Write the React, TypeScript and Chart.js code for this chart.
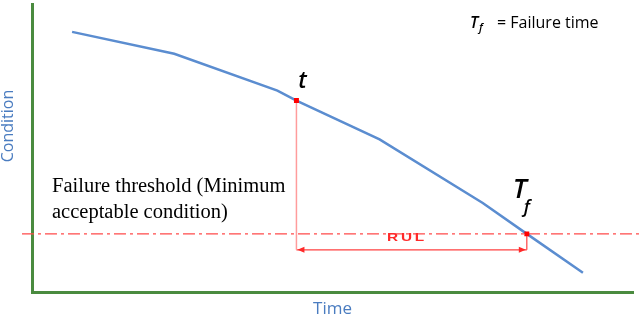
import React, { useEffect, useRef } from 'react';
import { Chart, registerables } from 'chart.js';

Chart.register(...registerables);

// ---- data ----
const timeValues = [4.0, 14.2, 24.5, 26.4, 34.7, 45.0, 49.4, 55.0];
const conditionValues = [26.2, 24.0, 20.3, 19.3, 15.4, 9.0, 5.9, 2.0];
const thresholdCondition = 5.9;
const thresholdTimeSpan = [-1.0, 60.7];
const currentTime = 26.4; // t
const currentCondition = 19.3;
const failureTime = 49.4; // T_f
const rulLevel = 4.3;
const xRange = [0, 60];
const yRange = [0, 29];
const xTitle = 'Time';
const yTitle = 'Condition';
const thresholdText = ['Failure threshold (Minimum', 'acceptable condition)'];
const rulText = 'RUL';
const legendText = '= Failure time';

const GREEN = '#4a8b3f';
const BLUE_LINE = '#5b8dd0';
const BLUE_TEXT = '#4a7cc0';
const RED = '#ff2a2a';

export default function App() {
  const ref = useRef<HTMLCanvasElement | null>(null);

  useEffect(() => {
    const canvas = ref.current;
    if (!canvas) return;

    const annotations = {
      id: 'annotations',
      afterDatasetsDraw(chart: any) {
        const { ctx, scales } = chart;
        const xs = scales.x;
        const ys = scales.y;
        const yR = ys.getPixelForValue(rulLevel);
        const xL = xs.getPixelForValue(currentTime);
        const xR = xs.getPixelForValue(failureTime);
        ctx.save();
        ctx.fillStyle = RED;
        ctx.beginPath();
        ctx.moveTo(xL + 1, yR);
        ctx.lineTo(xL + 8, yR - 3);
        ctx.lineTo(xL + 8, yR + 3);
        ctx.closePath();
        ctx.fill();
        ctx.beginPath();
        ctx.moveTo(xR - 1, yR);
        ctx.lineTo(xR - 8, yR - 3);
        ctx.lineTo(xR - 8, yR + 3);
        ctx.closePath();
        ctx.fill();
        ctx.restore();
      },
      afterDraw(chart: any) {
        const { ctx, scales, chartArea } = chart;
        const xs = scales.x;
        const ys = scales.y;
        ctx.save();
        ctx.fillStyle = BLUE_TEXT;
        ctx.font = '16px "Open Sans"';
        ctx.textAlign = 'center';
        ctx.textBaseline = 'middle';
        ctx.translate(8, 126);
        ctx.rotate(-Math.PI / 2);
        ctx.fillText(yTitle, 0, 0);
        ctx.restore();

        ctx.save();
        const tx = xs.getPixelForValue(currentTime);
        const ty = ys.getPixelForValue(currentCondition);
        ctx.fillStyle = '#000';
        ctx.textBaseline = 'alphabetic';
        ctx.textAlign = 'center';
        ctx.font = 'italic 600 23px "Open Sans"';
        ctx.fillText('t', tx + 6, ty - 13);
        const fx = xs.getPixelForValue(failureTime);
        const fy = ys.getPixelForValue(thresholdCondition);
        ctx.textAlign = 'left';
        ctx.font = 'italic 600 27px "Open Sans"';
        ctx.fillText('T', fx - 14, fy - 36);
        ctx.font = 'italic 600 18px "Open Sans"';
        ctx.fillText('f', fx - 3, fy - 21);

        // RUL (wide bold lettering)
        ctx.save();
        ctx.fillStyle = RED;
        ctx.font = 'bold 11px "Liberation Sans"';
        (ctx as any).letterSpacing = '2px';
        ctx.textBaseline = 'middle';
        ctx.translate(387, ys.getPixelForValue(rulLevel) - 12);
        ctx.scale(1.4, 1);
        ctx.fillText(rulText, 0, 0);
        ctx.restore();

        ctx.fillStyle = '#000';
        ctx.textBaseline = 'alphabetic';
        ctx.font = '20.5px "Liberation Serif"';
        ctx.fillText(thresholdText[0], chartArea.left + 20, 192);
        ctx.fillText(thresholdText[1], chartArea.left + 20, 218);

        ctx.font = 'italic 600 16px "Open Sans"';
        ctx.fillText('T', 470, 28);
        ctx.font = 'italic 600 11px "Open Sans"';
        ctx.fillText('f', 479, 31);
        ctx.font = '500 16px "Open Sans"';
        ctx.fillText(legendText, 497, 28);
        ctx.restore();
      },
    };

    const pts = (xsArr: number[], ysArr: number[]) => xsArr.map((x, i) => ({ x, y: ysArr[i] }));

    const chart = new Chart(canvas, {
      type: 'line',
      data: {
        datasets: [
          {
            data: [
              { x: currentTime, y: currentCondition },
              { x: failureTime, y: thresholdCondition },
            ],
            showLine: false,
            pointStyle: 'rect',
            pointRadius: 3.5,
            backgroundColor: '#ff0000',
            borderColor: '#ff0000',
            borderWidth: 0,
          },
          {
            data: pts(timeValues, conditionValues),
            borderColor: BLUE_LINE,
            borderWidth: 2.5,
            pointRadius: 0,
            tension: 0,
          },
          {
            data: pts(thresholdTimeSpan, [thresholdCondition, thresholdCondition]),
            borderColor: '#ff4a4a',
            borderWidth: 1.3,
            borderDash: [12, 4, 3, 4],
            pointRadius: 0,
            clip: false as any,
          },
          {
            data: pts([currentTime, currentTime], [currentCondition, rulLevel]),
            borderColor: '#ff9c9c',
            borderWidth: 1.5,
            pointRadius: 0,
          },
          {
            data: pts([currentTime, failureTime], [rulLevel, rulLevel]),
            borderColor: '#ff4040',
            borderWidth: 1.2,
            pointRadius: 0,
          },
          {
            data: pts([failureTime, failureTime], [thresholdCondition, rulLevel]),
            borderColor: '#ff4040',
            borderWidth: 1.2,
            pointRadius: 0,
          },
        ],
      },
      options: {
        responsive: false,
        animation: false,
        devicePixelRatio: 1,
        layout: { padding: { left: 32, right: 7, top: 3, bottom: 0 } },
        plugins: { legend: { display: false }, tooltip: { enabled: false } },
        scales: {
          x: {
            type: 'linear',
            min: xRange[0],
            max: xRange[1],
            grid: { display: false, drawTicks: false },
            ticks: { display: false },
            border: { display: true, color: GREEN, width: 3 },
            title: {
              display: true,
              text: xTitle,
              color: BLUE_TEXT,
              font: { family: '"Open Sans"', size: 17 },
              padding: { top: 6, bottom: 0 },
            },
          },
          y: {
            type: 'linear',
            min: yRange[0],
            max: yRange[1],
            grid: { display: false, drawTicks: false },
            ticks: { display: false },
            border: { display: true, color: GREEN, width: 3 },
          },
        },
      },
      plugins: [annotations],
    });
    return () => chart.destroy();
  }, []);

  return (
    <div style={{ position: 'fixed', left: 0, top: 0, width: 640, height: 319, background: '#fff' }}>
      <canvas ref={ref} width={640} height={319} style={{ display: 'block' }} />
    </div>
  );
}
